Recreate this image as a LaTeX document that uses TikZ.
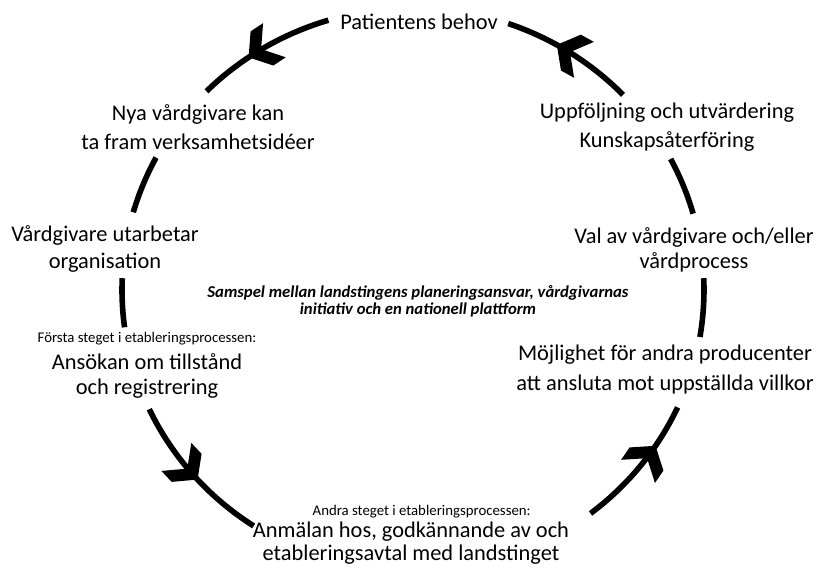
\documentclass[tikz,border=0pt]{standalone}
\usepackage{fontspec}
\setmainfont{Carlito}
\usetikzlibrary{positioning, calc, decorations.markings}

\tikzset{
  chevron/.style={postaction={decorate}, decoration={markings,
    mark=at position #1 with {\fill (0,0) -- (-16,20.5) -- (-31,20.5) -- (-15,0)
      -- (-31,-20.5) -- (-16,-20.5) -- cycle;}}}
}

\begin{document}
\begin{tikzpicture}[
    x=0.75pt, y=0.75pt,
    phase/.style={align=center, inner sep=1pt,
        font=\fontsize{16.8pt}{#1}\selectfont},
    phase/.default=20pt,
    steplabel/.style={align=center, inner sep=1pt,
        font=\fontsize{11.1pt}{13pt}\selectfont},
    theme/.style={align=center, inner sep=1pt,
        font=\fontsize{12.5pt}{12.5pt}\selectfont\bfseries\itshape},
    cyclearc/.style={line width=4.2pt, x radius=218.25pt, y radius=211.5pt}
]
\useasboundingbox (0,0) rectangle (819,569);
\coordinate (c) at (413,279);

% texts round the cycle
\node[phase] (pat) at (419,547) {Patientens behov};
\node[phase=21.75pt] (nya) at (198,441.5) {Nya vårdgivare kan\\ta fram verksamhetsidéer};
\node[phase=20.25pt] (vard) at (105,320.5) {Vårdgivare utarbetar\\organisation};
\node[phase=18.75pt] (ansok) at (147,193.5) {Ansökan om tillstånd\\och registrering};
\node[steplabel, above=4pt of ansok] (forsta) {Första steget i etableringsprocessen:};
\node[phase=17.25pt] (anm) at (411,25.5) {Anmälan hos, godkännande av och\\etableringsavtal med landstinget};
\node[steplabel, above=1pt of anm, xshift=8pt] (andra) {Andra steget i etableringsprocessen:};
\node[phase=22.5pt] (mojl) at (665,199) {Möjlighet för andra producenter\\att ansluta mot uppställda villkor};
\node[phase=18.75pt] (val) at (694,319.5) {Val av vårdgivare och/eller\\vårdprocess};
\node[phase=21.75pt] (uppf) at (667,441.5) {Uppföljning och utvärdering\\Kunskapsåterföring};
\node[theme] (samspel) at (418,268) {Samspel mellan landstingens planeringsansvar, vårdgivarnas\\initiativ och en nationell plattform};

% arc starts on the ring
\coordinate (pat-w) at ($(c)+(106.9:218.25pt and 211.5pt)$);
\coordinate (nya-s) at ($(c)+(152:218.25pt and 211.5pt)$);
\coordinate (vard-s) at ($(c)+(177.6:218.25pt and 211.5pt)$);
\coordinate (ansok-s) at ($(c)+(205:218.25pt and 211.5pt)$);
\coordinate (anm-e) at ($(c)+(307.6:218.25pt and 211.5pt)$);
\coordinate (mojl-n) at ($(c)+(350.4:218.25pt and 211.5pt)$);
\coordinate (val-n) at ($(c)+(15.7:218.25pt and 211.5pt)$);
\coordinate (uppf-n) at ($(c)+(43.8:218.25pt and 211.5pt)$);

\draw[cyclearc, chevron=0.62] (pat-w) arc[start angle=106.9, end angle=135.2];
\draw[cyclearc] (nya-s) arc[start angle=152, end angle=164];
\draw[cyclearc] (vard-s) arc[start angle=177.6, end angle=187.6];
\draw[cyclearc, chevron=0.54] (ansok-s) arc[start angle=205, end angle=236.8];
\draw[cyclearc, chevron=0.68] (anm-e) arc[start angle=307.6, end angle=335.4];
\draw[cyclearc] (mojl-n) arc[start angle=350.4, end angle=362.4];
\draw[cyclearc] (val-n) arc[start angle=15.7, end angle=27.7];
\draw[cyclearc, chevron=0.61] (uppf-n) arc[start angle=43.8, end angle=70.9];
\end{tikzpicture}
\end{document}
